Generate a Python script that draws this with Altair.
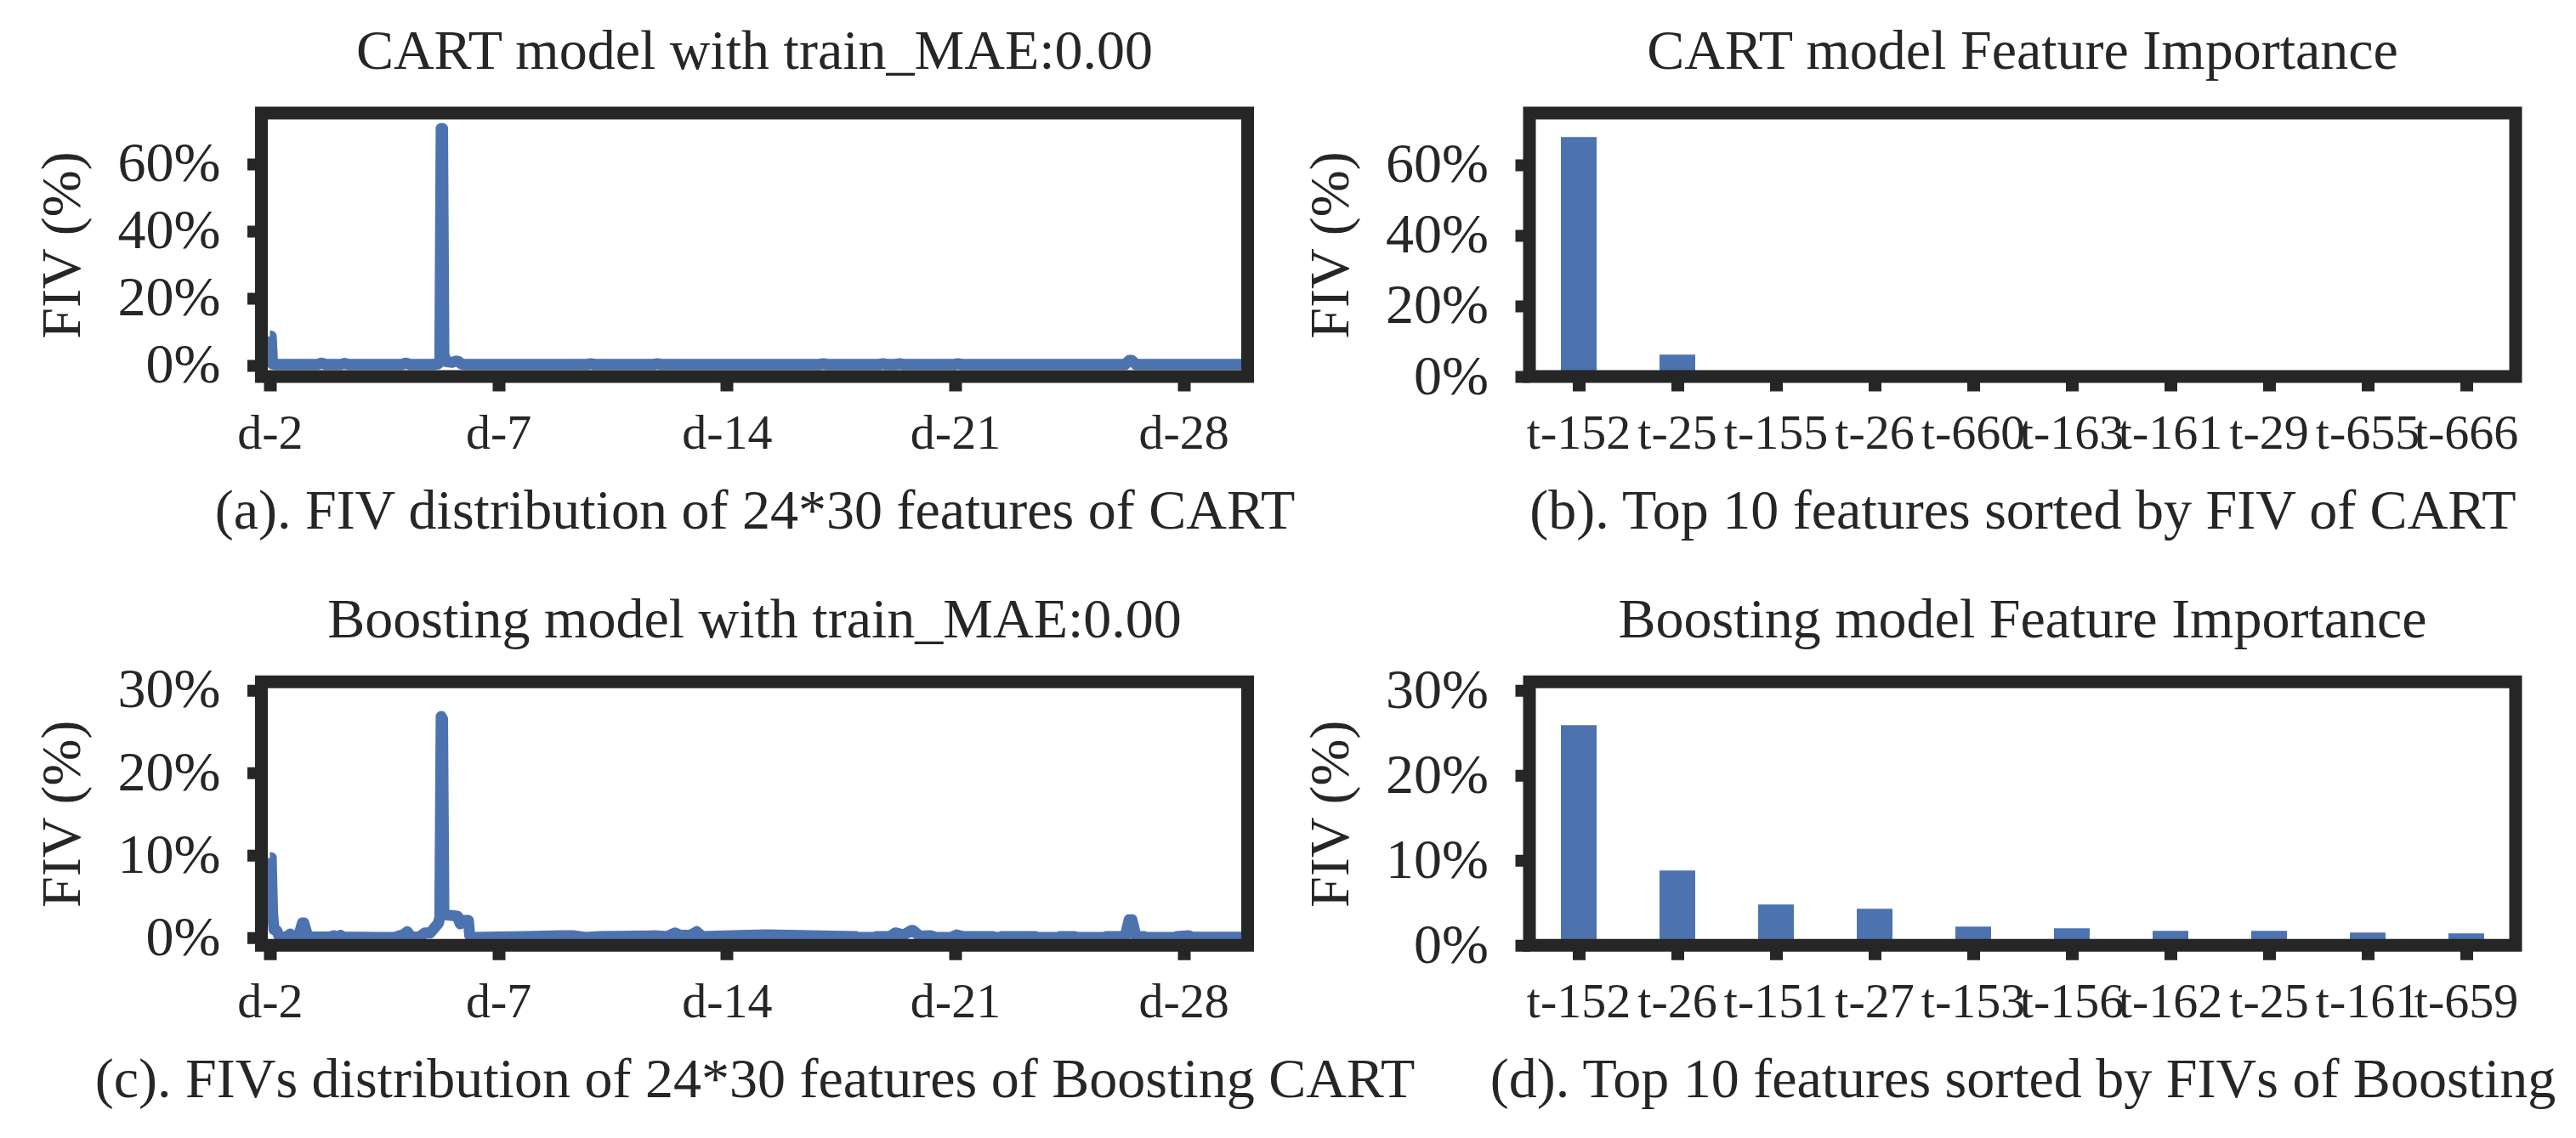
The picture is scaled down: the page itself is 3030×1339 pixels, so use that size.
import altair as alt
import pandas as pd

# ---------------- data ----------------
# (a) CART: FIV of the 24*30 features (sparse points, index -> FIV %)
A_IDX = [0, 1, 2, 5, 35, 38, 41, 52, 55, 58, 97, 100, 103, 120, 124, 125, 126, 127, 128, 130,
         134, 137, 139, 141, 144, 233, 236, 239, 282, 285, 288, 404, 407, 410, 448, 451, 454,
         460, 463, 466, 503, 506, 509, 629, 632, 634, 637, 719]
A_VAL = [8.6, 8.6, 0.3, 0.2, 0.2, 0.6, 0.2, 0.2, 0.5, 0.2, 0.2, 0.6, 0.2, 0.2, 0.4, 0.9, 70.5, 70.5, 3.0, 1.0,
         0.8, 1.2, 1.0, 0.3, 0.2, 0.2, 0.4, 0.2, 0.2, 0.4, 0.2, 0.2, 0.4, 0.2, 0.2, 0.4, 0.2,
         0.2, 0.4, 0.2, 0.2, 0.4, 0.2, 0.2, 1.4, 1.4, 0.2, 0.2]

# (c) Boosting: FIVs of the 24*30 features
C_IDX = [0, 1, 2, 3, 5, 7, 12, 15, 18, 21, 24, 25, 28, 44, 47, 50, 52, 54, 78, 92, 96, 98, 101, 104,
         110, 114, 118, 121, 124, 125, 126, 127, 128, 135, 138, 140, 142, 146, 147, 150,
         188, 215, 224, 232, 243, 283, 292, 298, 302, 309, 314, 318, 340, 365,
         431, 432, 445, 446, 456, 460, 466, 472, 473, 478, 486, 490, 501, 505, 510,
         532, 533, 537, 538, 563, 564, 580, 581, 592, 593, 614, 615,
         629, 632, 634, 637, 643, 644, 666, 667, 676, 678, 719]
C_VAL = [9.7, 9.7, 3.0, 1.0, 0.9, 0.1, 0.1, 0.45, 0.1, 0.15, 1.8, 1.8, 0.1, 0.1, 0.25, 0.1, 0.3, 0.1, 0.05, 0.05, 0.3, 0.35, 0.75, 0.1,
         0.1, 0.6, 0.6, 1.2, 1.8, 2.5, 26.8, 26.5, 2.8, 2.7, 2.6, 1.7, 2.1, 2.1, 0.3, 0.05,
         0.15, 0.25, 0.25, 0.05, 0.15, 0.25, 0.15, 0.6, 0.3, 0.3, 0.75, 0.15, 0.25, 0.35,
         0.15, 0.05, 0.05, 0.15, 0.15, 0.6, 0.35, 0.9, 0.9, 0.2, 0.25, 0.05, 0.05, 0.35, 0.15,
         0.15, 0.05, 0.05, 0.15, 0.15, 0.05, 0.05, 0.15, 0.15, 0.05, 0.05, 0.15,
         0.15, 2.2, 2.2, 0.15, 0.15, 0.05, 0.05, 0.15, 0.25, 0.08, 0.08]

# (b) CART top 10 features
B_FEATS = ["t-152", "t-25", "t-155", "t-26", "t-660", "t-163", "t-161", "t-29", "t-655", "t-666"]
B_VALS = [67.8, 6.2, 1.2, 1.0, 0.8, 0.7, 0.6, 0.5, 0.5, 0.4]

# (d) Boosting top 10 features
D_FEATS = ["t-152", "t-26", "t-151", "t-27", "t-153", "t-156", "t-162", "t-25", "t-161", "t-659"]
D_VALS = [25.9, 8.8, 4.8, 4.3, 2.2, 2.0, 1.7, 1.7, 1.5, 1.4]

XT_VALS = [0, 168, 336, 504, 672]
XT_LABELS = ["d-2", "d-7", "d-14", "d-21", "d-28"]
YT_A = [0, 20, 40, 60]
YT_C = [0, 10, 20, 30]

TITLES = ["CART model with train_MAE:0.00", "CART model Feature Importance",
          "Boosting model with train_MAE:0.00", "Boosting model Feature Importance"]
SUBTITLES = ["(a). FIV distribution of 24*30 features of CART",
             "(b). Top 10 features sorted by FIV of CART",
             "(c). FIVs distribution of 24*30 features of Boosting CART",
             "(d). Top 10 features sorted by FIVs of Boosting"]

# ---------------- style ----------------
INK = "#262626"
BLUE = "#4C72B0"
FONT = "Liberation Serif"
W, H = 1160, 310

x_label_expr = " : ".join(f"datum.value == {v} ? '{l}'" for v, l in zip(XT_VALS, XT_LABELS)) + " : ''"


def y_axis(vals):
    return alt.Axis(values=vals, labelExpr="datum.value + '%'", tickSize=17, tickWidth=14,
                    tickColor=INK, domain=False, grid=False, labelFont=FONT, labelFontSize=66,
                    labelColor=INK, labelPadding=31.5, labelBaseline="middle", labelFlush=False,
                    labelOverlap=False, title="FIV (%)", titleFont=FONT, titleFontSize=66,
                    titleFontWeight="normal", titleColor=INK, titleAngle=270, titleX=-214,
                    titleY=H / 2, titleBaseline="alphabetic", titleAlign="center")


def x_axis(sub, **kw):
    return alt.Axis(tickSize=17, tickWidth=15, tickColor=INK, domain=False, grid=False,
                    labelFont=FONT, labelFontSize=58, labelColor=INK, labelBaseline="alphabetic",
                    labelPadding=67, labelAngle=0, labelFlush=False, labelOverlap=False,
                    title=sub, titleFont=FONT, titleFontSize=66, titleFontWeight="normal",
                    titleColor=INK, titleX=W / 2, titleY=178, titleBaseline="alphabetic",
                    titleAlign="center", **kw)


def frame():
    return alt.Chart(alt.Data(values=[{"f": 0}])).mark_rect(
        filled=False, stroke=INK, strokeWidth=15
    ).encode(x=alt.value(0), x2=alt.value(W), y=alt.value(0), y2=alt.value(H))


def title(text, off):
    return alt.TitleParams(text=text, font=FONT, fontSize=66, fontWeight="normal", color=INK,
                           anchor="middle", frame="group", baseline="alphabetic", offset=off,
                           dy=62)


def line_panel(idx, val, ydom, yt, ttl, sub, off):
    df = pd.DataFrame({"i": idx, "v": val})
    ln = alt.Chart(df).mark_line(color=BLUE, strokeWidth=13, strokeJoin="round", clip=True).encode(
        x=alt.X("i:Q", scale=alt.Scale(domain=[-6.2, 719.1], nice=False, zero=False),
                axis=x_axis(sub, values=XT_VALS, labelExpr=x_label_expr)),
        y=alt.Y("v:Q", scale=alt.Scale(domain=ydom, nice=False, zero=False), axis=y_axis(yt)),
    )
    return alt.layer(ln, frame()).properties(width=W, height=H, title=title(ttl, off))


def bar_panel(feats, vals, ytop, yt, ttl, sub, off):
    df = pd.DataFrame({"f": feats, "v": vals})
    br = alt.Chart(df).mark_bar(color=BLUE).encode(
        x=alt.X("f:N", sort=None, scale=alt.Scale(paddingInner=0.638, paddingOuter=0.319),
                axis=x_axis(sub)),
        y=alt.Y("v:Q", scale=alt.Scale(domain=[0, ytop], nice=False), axis=y_axis(yt)),
    )
    return alt.layer(br, frame()).properties(width=W, height=H, title=title(ttl, off))


pa = line_panel(A_IDX, A_VAL, [-3.4, 75.1], YT_A, TITLES[0], SUBTITLES[0], 41)
pb = bar_panel(B_FEATS, B_VALS, 74.6, YT_A, TITLES[1], SUBTITLES[1], 41)
pc = line_panel(C_IDX, C_VAL, [-0.9, 31.0], YT_C, TITLES[2], SUBTITLES[2], 25.3)
pd_ = bar_panel(D_FEATS, D_VALS, 31.0, YT_C, TITLES[3], SUBTITLES[3], 25.3)

chart = alt.concat(pa, pb, pc, pd_, columns=2,
                   spacing={"row": 359.25, "column": 331.5}, bounds="flush").properties(
    padding={"left": 31.5, "top": 19, "right": 10, "bottom": 10},
    background="white",
).configure_view(strokeWidth=0).configure(font=FONT)

chart.save("out.html", embed_options={"renderer": "svg", "actions": False})
